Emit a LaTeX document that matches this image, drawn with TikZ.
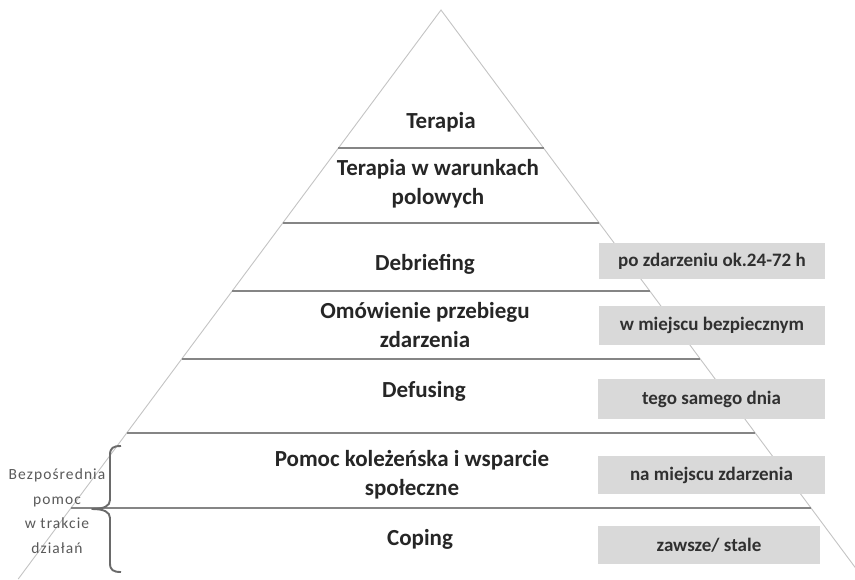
\documentclass[tikz,border=0pt]{standalone}
\usepackage{fontspec}
\setmainfont{Carlito}
\newfontfamily\sidefont[LetterSpace=7]{Carlito}
\definecolor{edgegray}{HTML}{C4C4C4}
\definecolor{sepgray}{HTML}{858585}
\definecolor{boxgray}{HTML}{D9D9D9}
\definecolor{txtdark}{HTML}{262626}
\definecolor{boxtxt}{HTML}{303030}
\definecolor{sidetxt}{HTML}{5A5A5A}
\definecolor{bracegray}{HTML}{6A6A6A}
\begin{document}
\begin{tikzpicture}[x=1pt,y=-1pt,
  layer/.style={font=\bfseries\fontsize{23}{29}\selectfont, text=txtdark, align=center, anchor=base, inner sep=0pt},
  note/.style={fill=boxgray, font=\bfseries\fontsize{19}{22}\selectfont, text=boxtxt, minimum height=38pt, inner sep=0pt},
  sepline/.style={draw=sepgray, line width=1.3pt},
  edgeline/.style={draw=edgegray, line width=0.9pt},
  sidelabel/.style={font=\sidefont\fontsize{15.5}{24.5}\selectfont, text=sidetxt, align=center, anchor=base, inner sep=0pt},
  bracestyle/.style={draw=bracegray, line width=1.9pt, line join=round}
]
\useasboundingbox (0,0) rectangle (855,579);
\clip (0,0) rectangle (855,579);
\fill[white] (0,0) rectangle (855,579);
% pyramid
\coordinate (apex) at (441,10);
\coordinate (bl) at ({441-0.743*569},579);
\coordinate (br) at ({441+0.743*569},579);
\draw[edgeline] (bl) -- (apex) -- (br);
% separators
\foreach \Y in {148,223,291,359,433,508}{
  \draw[sepline] ({441-0.743*(\Y-10)},\Y) -- ({441+0.743*(\Y-10)},\Y);
}
% layer labels (base anchor = baseline of last line)
\node[layer] (terapia) at (441,128) {Terapia};
\node[layer] (polowe) at (438,204) {Terapia w warunkach\\polowych};
\node[layer] (debrief) at (425,270) {Debriefing};
\node[layer] (omow) at (425,347) {Omówienie przebiegu\\zdarzenia};
\node[layer] (defus) at (424,397) {Defusing};
\node[layer] (pomoc) at (412,495) {Pomoc koleżeńska i wsparcie\\społeczne};
\node[layer] (coping) at (420,545) {Coping};
% time notes
\node[note, minimum width=226pt, minimum height=36pt] (n1) at (712,261) {po zdarzeniu ok.24-72 h};
\node[note, minimum width=226pt, minimum height=39pt] (n2) at (712,325.5) {w miejscu bezpiecznym};
\node[note, minimum width=227pt, minimum height=40pt] (n3) at (711.5,399) {tego samego dnia};
\node[note, minimum width=227pt, minimum height=38pt] (n4) at (711.5,475) {na miejscu zdarzenia};
\node[note, minimum width=222pt, minimum height=38pt] (n5) at (709,545) {zawsze/ stale};
% brace and side label
\coordinate (bracetop) at (121,446);
\coordinate (bracetip) at (92,509);
\coordinate (bracebot) at (121,572);
\draw[bracestyle] (bracetop) .. controls (113,446) and (110,448) .. (110,455)
  -- (110,500) .. controls (110,506) and (104,509) .. (bracetip)
  .. controls (104,509) and (110,512) .. (110,518)
  -- (110,563) .. controls (110,570) and (113,572) .. (bracebot);
\node[sidelabel] (side) at (57,553) {Bezpośrednia\\pomoc\\w trakcie\\działań};
\end{tikzpicture}
\end{document}
